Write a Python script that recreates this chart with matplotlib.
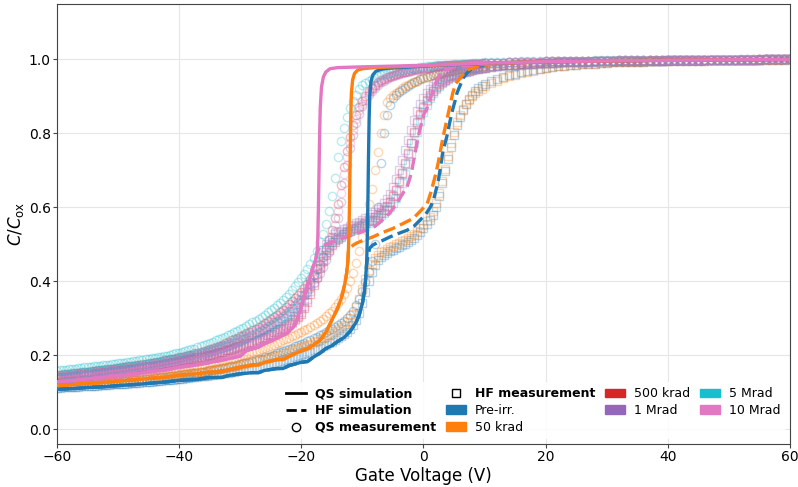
import numpy as np
import matplotlib
matplotlib.use('Agg')
import matplotlib.pyplot as plt
import matplotlib.patches as mpatches
from matplotlib.lines import Line2D

# dose labels and colours
doses = ['Pre-irr.', '50 krad', '500 krad', '1 Mrad', '5 Mrad', '10 Mrad']
colors = ['#1f77b4', '#ff7f0e', '#d62728', '#9467bd', '#17becf', '#e377c2']

# measurement voltage grid (V): 0.5 V steps up to 10 V, then 1 V steps
meas_v = np.concatenate([np.arange(-60, 10.5, 0.5), np.arange(11, 61)])

# QS measurements (C/Cox)
qs_pre = [.118, .118, .119, .119, .120, .120, .121, .121, .122, .122,
          .123, .123, .124, .124, .125, .125, .126, .126, .127, .127,
          .128, .129, .130, .130, .131, .132, .133, .133, .134, .135,
          .136, .137, .138, .139, .140, .141, .142, .143, .144, .145,
          .146, .147, .148, .149, .151, .152, .153, .154, .156, .157,
          .159, .160, .162, .163, .165, .166, .168, .170, .172, .174,
          .176, .178, .180, .182, .184, .186, .189, .191, .194, .196,
          .199, .202, .205, .208, .211, .214, .217, .220, .224, .227,
          .231, .234, .238, .242, .246, .250, .254, .258, .263, .267,
          .272, .277, .282, .288, .294, .301, .310, .321, .335, .353,
          .375, .398, .425, .455, .500, .600, .720, .800, .850, .878,
          .895, .904, .912, .918, .924, .929, .934, .938, .942, .946,
          .949, .952, .955, .958, .960, .962, .964, .966, .967, .969,
          .970, .972, .973, .974, .975, .976, .977, .978, .979, .980, .981,
          .982, .983, .984, .985, .986, .987, .988, .989, .990,
          .990, .991, .991, .992, .992, .993, .993, .994, .994, .995,
          .995, .995, .996, .996, .996, .996, .997, .997, .997, .997,
          .997, .998, .998, .998, .998, .998, .998, .999, .999, .999,
          .999, .999, .999, .999, .999, .999, 1.0, 1.0, 1.0, 1.0, 1.0]
qs_50k = [.128, .128, .129, .129, .130, .130, .131, .131, .132, .132,
          .133, .133, .134, .134, .135, .136, .137, .137, .138, .139,
          .140, .140, .141, .142, .143, .144, .145, .146, .147, .148,
          .149, .150, .151, .152, .153, .154, .156, .157, .158, .159,
          .161, .162, .164, .165, .167, .168, .170, .171, .173, .175,
          .177, .179, .181, .183, .185, .187, .189, .191, .193, .195,
          .198, .200, .203, .205, .208, .211, .214, .217, .220, .223,
          .226, .229, .233, .236, .240, .243, .247, .251, .255, .259,
          .263, .267, .272, .277, .282, .287, .293, .299, .306, .313,
          .321, .330, .340, .352, .365, .381, .400, .423, .450, .482,
          .520, .563, .610, .650, .700, .750, .800, .850, .885, .895,
          .903, .910, .916, .922, .927, .932, .936, .940, .943, .947,
          .950, .953, .955, .958, .960, .962, .964, .966, .968, .970,
          .971, .973, .974, .975, .976, .977, .978, .979, .980, .981, .982,
          .983, .984, .985, .986, .987, .988, .989, .990, .990,
          .991, .992, .992, .993, .993, .994, .994, .995, .995, .995,
          .996, .996, .996, .997, .997, .997, .997, .998, .998, .998,
          .998, .998, .998, .999, .999, .999, .999, .999, .999, .999,
          .999, .999, 1.0, 1.0, 1.0, 1.0, 1.0, 1.0, 1.0, 1.0, 1.0]
qs_500k = [.146, .147, .148, .149, .150, .151, .152, .153, .154, .155,
           .156, .157, .158, .159, .160, .161, .162, .163, .164, .165,
           .166, .167, .168, .170, .171, .172, .173, .175, .176, .177,
           .178, .180, .181, .183, .184, .186, .187, .189, .190, .192,
           .194, .196, .198, .200, .202, .205, .207, .210, .212, .215,
           .217, .220, .223, .226, .229, .232, .236, .240, .243, .247,
           .251, .255, .259, .263, .268, .272, .277, .282, .287, .292,
           .298, .304, .310, .316, .323, .330, .338, .346, .354, .363,
           .372, .382, .393, .405, .418, .432, .448, .467, .488, .512,
           .540, .572, .610, .660, .710, .752, .790, .822, .850, .871,
           .888, .902, .915, .924, .932, .938, .944, .948, .952, .955,
           .958, .961, .963, .965, .967, .969, .971, .973, .974, .976,
           .977, .978, .979, .980, .981, .982, .983, .984, .984, .985,
           .985, .986, .986, .987, .987, .988, .988, .989, .989, .990, .990,
           .990, .991, .991, .992, .992, .993, .993, .994, .994,
           .995, .995, .995, .996, .996, .996, .996, .997, .997, .997,
           .997, .997, .998, .998, .998, .998, .998, .998, .998, .999,
           .999, .999, .999, .999, .999, .999, .999, .999, .999, .999,
           .999, .999, .999, .999, .999, 1.0, 1.0, 1.0, 1.0, 1.0, 1.0]
qs_1M = [.138, .139, .140, .141, .142, .143, .144, .145, .146, .147,
         .148, .149, .150, .151, .152, .153, .154, .155, .156, .157,
         .158, .159, .160, .162, .163, .164, .165, .167, .168, .169,
         .170, .172, .173, .175, .176, .178, .179, .181, .182, .184,
         .186, .188, .190, .192, .194, .196, .198, .201, .203, .206,
         .208, .211, .213, .216, .219, .222, .225, .229, .232, .236,
         .239, .243, .247, .251, .255, .260, .264, .269, .273, .278,
         .283, .289, .294, .300, .306, .313, .320, .328, .335, .343,
         .352, .362, .372, .383, .395, .408, .422, .439, .458, .480,
         .505, .535, .570, .615, .665, .715, .760, .797, .828, .852,
         .873, .889, .903, .914, .924, .932, .938, .943, .948, .952,
         .955, .958, .960, .963, .965, .967, .969, .971, .972, .974,
         .975, .977, .978, .979, .980, .981, .982, .983, .983, .984,
         .984, .985, .985, .986, .986, .987, .987, .988, .988, .989, .990,
         .990, .991, .991, .992, .992, .993, .993, .994, .994,
         .995, .995, .995, .996, .996, .996, .996, .997, .997, .997,
         .997, .997, .998, .998, .998, .998, .998, .998, .998, .999,
         .999, .999, .999, .999, .999, .999, .999, .999, .999, .999,
         .999, .999, .999, .999, .999, 1.0, 1.0, 1.0, 1.0, 1.0, 1.0]
qs_5M = [.158, .159, .160, .161, .162, .163, .164, .165, .166, .167,
         .168, .169, .170, .171, .172, .173, .174, .175, .176, .177,
         .178, .179, .180, .182, .183, .184, .185, .187, .188, .189,
         .190, .192, .193, .195, .196, .198, .199, .201, .203, .205,
         .207, .209, .211, .213, .216, .218, .221, .224, .227, .230,
         .233, .236, .240, .243, .247, .250, .254, .258, .262, .266,
         .270, .275, .279, .284, .289, .294, .299, .304, .310, .316,
         .322, .328, .335, .342, .350, .358, .367, .377, .387, .398,
         .410, .421, .433, .447, .462, .482, .505, .528, .555, .590,
         .630, .680, .735, .780, .815, .845, .868, .888, .905, .919,
         .930, .937, .943, .947, .951, .954, .957, .960, .962, .964,
         .966, .968, .970, .972, .973, .975, .976, .977, .978, .979,
         .980, .981, .982, .983, .984, .984, .985, .985, .986, .986,
         .987, .987, .988, .988, .989, .989, .990, .990, .991, .991, .992,
         .992, .993, .993, .994, .994, .995, .995, .995, .996,
         .996, .996, .996, .997, .997, .997, .997, .997, .998, .998,
         .998, .998, .998, .998, .998, .998, .999, .999, .999, .999,
         .999, .999, .999, .999, .999, .999, .999, .999, .999, .999,
         .999, .999, 1.0, 1.0, 1.0, 1.0, 1.0, 1.0, 1.0, 1.0, 1.0]
qs_10M = [.142, .143, .144, .145, .146, .147, .148, .149, .150, .151,
          .152, .153, .154, .155, .156, .157, .158, .159, .160, .161,
          .162, .163, .164, .166, .167, .168, .169, .171, .172, .173,
          .174, .176, .177, .179, .180, .182, .183, .185, .186, .188,
          .190, .192, .194, .196, .198, .200, .203, .205, .208, .210,
          .213, .215, .218, .221, .224, .227, .231, .234, .238, .241,
          .245, .249, .253, .257, .262, .266, .271, .275, .280, .285,
          .291, .296, .302, .308, .315, .322, .329, .337, .345, .353,
          .362, .372, .382, .394, .406, .420, .435, .452, .472, .494,
          .520, .552, .590, .640, .690, .735, .775, .810, .840, .862,
          .880, .896, .909, .919, .928, .935, .941, .946, .950, .953,
          .956, .959, .961, .964, .966, .968, .970, .972, .973, .975,
          .976, .977, .978, .979, .980, .981, .982, .983, .983, .984,
          .984, .985, .985, .986, .986, .987, .987, .988, .988, .989, .990,
          .990, .991, .991, .992, .992, .993, .993, .994, .994,
          .995, .995, .995, .996, .996, .996, .996, .997, .997, .997,
          .997, .997, .998, .998, .998, .998, .998, .998, .998, .999,
          .999, .999, .999, .999, .999, .999, .999, .999, .999, .999,
          .999, .999, .999, .999, .999, 1.0, 1.0, 1.0, 1.0, 1.0, 1.0]

# HF measurements (C/Cox)
hf_pre = [.112, .112, .113, .113, .114, .114, .115, .115, .116, .116,
          .117, .117, .118, .118, .119, .119, .120, .120, .121, .121,
          .122, .122, .123, .123, .124, .125, .126, .126, .127, .127,
          .128, .129, .130, .130, .131, .132, .133, .133, .134, .135,
          .136, .137, .138, .139, .140, .141, .142, .143, .144, .145,
          .146, .147, .148, .149, .151, .152, .153, .154, .156, .157,
          .159, .160, .162, .163, .165, .166, .168, .170, .172, .174,
          .176, .178, .180, .182, .184, .186, .189, .191, .194, .197,
          .200, .203, .206, .209, .213, .216, .220, .224, .228, .232,
          .237, .242, .247, .252, .258, .264, .272, .282, .295, .315,
          .340, .370, .400, .425, .445, .457, .465, .471, .476, .481,
          .485, .489, .493, .497, .502, .507, .512, .518, .525, .534,
          .545, .554, .565, .580, .600, .630, .665, .698, .730, .763,
          .795, .822, .845, .864, .880, .893, .905, .914, .922, .928, .933,
          .941, .948, .953, .958, .962, .966, .969, .972, .975,
          .977, .979, .981, .983, .985, .986, .987, .988, .989, .990,
          .991, .992, .992, .993, .993, .994, .994, .995, .995, .995,
          .996, .996, .996, .997, .997, .997, .997, .998, .998, .998,
          .998, .998, .998, .999, .999, .999, .999, .999, .999, .999, 1.0]
hf_50k = [.120, .120, .121, .121, .122, .122, .123, .123, .124, .124,
          .125, .125, .126, .126, .127, .127, .128, .128, .129, .129,
          .130, .130, .131, .132, .133, .133, .134, .135, .136, .136,
          .137, .138, .139, .140, .141, .142, .143, .144, .145, .146,
          .147, .148, .149, .150, .151, .152, .154, .155, .156, .157,
          .159, .160, .162, .163, .165, .166, .168, .169, .171, .172,
          .174, .176, .178, .180, .182, .184, .186, .188, .190, .192,
          .195, .197, .200, .202, .205, .207, .210, .213, .216, .219,
          .222, .225, .228, .231, .235, .239, .243, .247, .251, .255,
          .260, .265, .270, .276, .283, .291, .300, .312, .330, .352,
          .380, .405, .430, .448, .462, .471, .478, .483, .488, .492,
          .496, .500, .504, .508, .513, .518, .523, .529, .536, .543,
          .552, .562, .575, .590, .612, .638, .670, .705, .740, .775,
          .805, .830, .850, .866, .880, .891, .900, .908, .915, .921, .927,
          .936, .943, .949, .954, .959, .963, .967, .970, .973,
          .976, .979, .981, .983, .985, .986, .987, .988, .989, .990,
          .991, .992, .992, .993, .993, .994, .994, .995, .995, .995,
          .996, .996, .996, .997, .997, .997, .997, .998, .998, .998,
          .998, .998, .998, .999, .999, .999, .999, .999, .999, .999, 1.0]
hf_500k = [.140, .141, .142, .143, .144, .145, .146, .147, .148, .149,
           .150, .151, .152, .153, .154, .155, .156, .157, .158, .159,
           .160, .161, .162, .163, .164, .165, .166, .167, .168, .170,
           .171, .172, .173, .175, .176, .177, .178, .180, .181, .183,
           .184, .186, .187, .189, .190, .192, .194, .196, .198, .200,
           .202, .204, .206, .208, .210, .213, .215, .218, .220, .223,
           .225, .228, .231, .234, .237, .240, .243, .247, .250, .254,
           .258, .262, .266, .270, .275, .280, .285, .291, .297, .304,
           .312, .327, .345, .366, .390, .412, .435, .455, .472, .486,
           .498, .507, .515, .521, .527, .532, .537, .541, .545, .549,
           .553, .557, .562, .567, .573, .579, .586, .594, .603, .615,
           .630, .648, .670, .694, .720, .747, .775, .803, .830, .853,
           .872, .889, .903, .915, .925, .933, .940, .945, .950, .954,
           .957, .960, .963, .966, .968, .970, .972, .974, .975, .977, .978,
           .980, .982, .984, .985, .986, .987, .988, .989, .990,
           .991, .991, .992, .992, .993, .993, .994, .994, .995, .995,
           .995, .996, .996, .996, .996, .997, .997, .997, .997, .997,
           .998, .998, .998, .998, .998, .998, .998, .999, .999, .999,
           .999, .999, .999, .999, .999, .999, 1.0, 1.0, 1.0, 1.0, 1.0]
hf_1M = [.135, .136, .137, .138, .139, .140, .141, .142, .143, .144,
         .145, .146, .147, .148, .149, .150, .151, .152, .153, .154,
         .155, .156, .157, .158, .160, .161, .162, .163, .164, .166,
         .167, .168, .169, .171, .172, .173, .175, .176, .178, .179,
         .181, .182, .184, .185, .187, .189, .191, .193, .195, .197,
         .199, .201, .203, .205, .208, .210, .213, .215, .218, .220,
         .223, .226, .229, .232, .235, .238, .242, .246, .250, .254,
         .258, .262, .267, .272, .277, .282, .288, .296, .305, .317,
         .330, .348, .370, .394, .420, .443, .465, .484, .500, .511,
         .520, .527, .532, .537, .541, .545, .549, .553, .557, .561,
         .565, .570, .575, .581, .588, .595, .602, .611, .622, .636,
         .655, .676, .700, .727, .755, .783, .810, .836, .860, .879,
         .895, .909, .920, .929, .937, .943, .948, .952, .956, .959,
         .962, .965, .967, .969, .971, .973, .974, .976, .977, .978, .979,
         .981, .983, .984, .985, .986, .987, .988, .989, .990,
         .991, .991, .992, .992, .993, .993, .994, .994, .995, .995,
         .995, .996, .996, .996, .996, .997, .997, .997, .997, .997,
         .998, .998, .998, .998, .998, .998, .998, .999, .999, .999,
         .999, .999, .999, .999, .999, .999, 1.0, 1.0, 1.0, 1.0, 1.0]
hf_5M = [.145, .146, .147, .148, .149, .150, .151, .152, .153, .154,
         .155, .156, .157, .158, .159, .160, .161, .162, .163, .164,
         .165, .166, .167, .168, .170, .171, .172, .173, .175, .176,
         .177, .178, .180, .181, .183, .184, .186, .187, .189, .190,
         .192, .194, .196, .198, .200, .202, .204, .206, .208, .210,
         .213, .215, .218, .220, .223, .225, .228, .231, .234, .237,
         .240, .243, .247, .250, .254, .258, .262, .266, .270, .274,
         .279, .284, .289, .294, .300, .306, .312, .320, .328, .338,
         .350, .364, .380, .398, .418, .437, .455, .471, .485, .496,
         .505, .512, .518, .523, .528, .532, .536, .540, .543, .547,
         .550, .554, .558, .562, .567, .572, .578, .584, .592, .601,
         .612, .626, .645, .666, .690, .716, .745, .775, .805, .833,
         .858, .878, .895, .909, .920, .929, .937, .943, .948, .952,
         .956, .959, .962, .965, .967, .969, .971, .973, .974, .976, .977,
         .979, .981, .983, .984, .985, .986, .987, .988, .989,
         .990, .991, .991, .992, .992, .993, .993, .994, .994, .995,
         .995, .995, .996, .996, .996, .996, .997, .997, .997, .997,
         .998, .998, .998, .998, .998, .998, .998, .999, .999, .999,
         .999, .999, .999, .999, .999, .999, 1.0, 1.0, 1.0, 1.0, 1.0]
hf_10M = [.130, .131, .132, .133, .134, .135, .136, .137, .138, .139,
          .140, .141, .142, .143, .144, .145, .146, .147, .148, .149,
          .150, .151, .152, .153, .155, .156, .157, .158, .159, .160,
          .162, .163, .164, .166, .167, .168, .170, .171, .173, .174,
          .176, .177, .179, .180, .182, .184, .186, .188, .190, .192,
          .194, .196, .198, .200, .203, .205, .208, .210, .213, .215,
          .218, .221, .224, .227, .230, .233, .237, .240, .244, .248,
          .252, .256, .261, .265, .270, .275, .281, .288, .295, .306,
          .318, .334, .352, .374, .398, .420, .442, .461, .478, .491,
          .502, .511, .518, .524, .530, .535, .539, .543, .547, .551,
          .555, .559, .564, .569, .575, .581, .588, .596, .605, .616,
          .630, .647, .668, .692, .718, .745, .773, .801, .828, .851,
          .870, .887, .902, .914, .924, .932, .939, .944, .949, .953,
          .956, .959, .962, .965, .967, .969, .971, .973, .974, .976, .977,
          .979, .981, .983, .984, .985, .986, .987, .988, .989,
          .990, .991, .991, .992, .992, .993, .993, .994, .994, .995,
          .995, .995, .996, .996, .996, .996, .997, .997, .997, .997,
          .998, .998, .998, .998, .998, .998, .998, .999, .999, .999,
          .999, .999, .999, .999, .999, .999, 1.0, 1.0, 1.0, 1.0, 1.0]

# simulations: Pre-irr.
pre_qs_v = [-60, -57, -55, -52, -50, -47, -45, -42, -40, -37,
            -35, -33, -32, -30, -28, -27, -26, -24, -23, -22,
            -20, -19, -18, -17, -16, -15, -14, -13, -12, -11,
            -10.5, -10, -9.7, -9.5, -9.3, -9.2, -9.1, -9.0, -8.9, -8.8,
            -8.6, -8.3, -7.8, -7, -6, -4, -2, 0, 5, 10,
            15, 20, 30, 40, 50, 60]
pre_qs_c = [.108, .110, .113, .115, .118, .121, .124, .128, .132, .135,
            .140, .140, .145, .150, .153, .153, .159, .164, .164, .172,
            .181, .183, .195, .205, .218, .226, .238, .248, .265, .29,
            .31, .34, .37, .40, .45, .52, .62, .74, .84, .90,
            .94, .958, .968, .973, .976, .978, .980, .982, .986, .989,
            .992, .994, .996, .998, .999, 1.0]
pre_branch = -9.3
pre_hf_tail_v = [-9.1, -8.8, -8.3, -7.5, -6.5, -5.5, -4, -2.7, -1.5, -0.6,
                 0.3, 1.1, 1.6, 1.9, 2.4, 2.7, 3.2, 3.8, 4.3, 4.7,
                 5.2, 5.5, 6.0, 6.5, 7.2, 7.9, 9, 12, 16, 20, 30, 40, 50, 60]
pre_hf_tail_c = [.47, .49, .498, .505, .512, .52, .53, .538, .55, .565,
                 .58, .60, .618, .637, .67, .70, .754, .79, .83, .86,
                 .89, .91, .93, .95, .965, .975, .982, .988, .991, .993, .996, .998, .999, 1.0]

# simulations: 50 krad
k50_qs_v = [-60, -57, -55, -52, -50, -47, -45, -42, -40, -37,
            -35, -33, -32, -30, -28, -27, -26, -24, -23, -22,
            -21, -20, -19, -18, -17, -16.5, -16, -15.5, -15, -14.5,
            -14, -13.5, -13.2, -12.9, -12.6, -12.4, -12.3, -12.2, -12.1, -12.0,
            -11.9, -11.8, -11.6, -11.3, -10.8, -10, -8, -5, 0, 5,
            10, 15, 20, 30, 40, 50, 60]
k50_qs_c = [.118, .121, .124, .127, .130, .134, .137, .141, .146, .150,
            .155, .155, .161, .168, .174, .174, .181, .188, .188, .197,
            .205, .212, .218, .228, .240, .250, .262, .278, .295, .312,
            .330, .352, .370, .392, .42, .45, .48, .53, .62, .74,
            .85, .91, .945, .962, .971, .975, .978, .980, .983, .987,
            .990, .992, .994, .996, .998, .999, 1.0]
k50_branch = -12.3
k50_hf_tail_v = [-12.0, -11.5, -11, -10, -8.3, -7, -5, -3.5, -1.7, -0.5,
                 0.6, 1.2, 1.6, 2.0, 2.4, 2.8, 3.2, 3.6, 4.0, 4.4,
                 4.8, 5.3, 6.0, 6.8, 7.6, 9, 12, 16, 20, 30, 40, 50, 60]
k50_hf_tail_c = [.49, .498, .503, .51, .52, .53, .543, .555, .57, .59,
                 .61, .64, .665, .69, .72, .755, .79, .82, .85, .88,
                 .91, .935, .95, .965, .975, .982, .988, .991, .993, .996, .998, .999, 1.0]

# simulations: 10 Mrad
m10_qs_v = [-60, -57, -55, -52, -50, -47, -45, -42, -40, -37,
            -35, -32, -30, -28.9, -27, -25.6, -24, -22.3, -21.3, -20.7,
            -20.2, -19.7, -19.3, -18.9, -18.5, -18.1, -17.8, -17.6, -17.5, -17.4,
            -17.3, -17.2, -17.1, -17.0, -16.9, -16.7, -16.4, -16.0, -15.3, -14,
            -10, -5, 0, 5, 10, 15, 20, 30, 40, 50, 60]
m10_qs_c = [.128, .132, .136, .141, .145, .150, .155, .161, .168, .174,
            .180, .190, .198, .213, .222, .235, .246, .26, .276, .295,
            .32, .35, .37, .395, .415, .438, .452, .462, .472, .48,
            .52, .60, .70, .80, .87, .925, .952, .966, .975, .978,
            .980, .982, .984, .987, .990, .992, .994, .996, .998, .999, 1.0]
m10_branch = -17.4
m10_hf_tail_v = [-17.0, -16.0, -15, -14.2, -13, -11.5, -10.4, -9, -8, -7.1,
                 -6.3, -5.5, -4.4, -3.5, -2.7, -2.3, -1.9, -1.4, -1.0, -0.6,
                 0, 0.6, 1.1, 1.6, 2.1, 2.7, 3.5, 5, 8, 15, 30, 45, 60]
m10_hf_tail_c = [.492, .50, .506, .51, .518, .526, .532, .54, .548, .56,
                 .572, .585, .61, .635, .655, .675, .70, .745, .78, .81,
                 .85, .87, .895, .915, .94, .96, .972, .98, .985, .99, .996, .998, 1.0]

qs_meas = [qs_pre, qs_50k, qs_500k, qs_1M, qs_5M, qs_10M]
hf_meas = [hf_pre, hf_50k, hf_500k, hf_1M, hf_5M, hf_10M]


def hf_curve(qv, qc, branch, tv, tc):
    # HF simulation follows the QS one until the QS curve shoots up
    head = [(v, c) for v, c in zip(qv, qc) if v <= branch]
    return [h[0] for h in head] + tv, [h[1] for h in head] + tc


sims = [
    (pre_qs_v, pre_qs_c, *hf_curve(pre_qs_v, pre_qs_c, pre_branch, pre_hf_tail_v, pre_hf_tail_c), colors[0]),
    (k50_qs_v, k50_qs_c, *hf_curve(k50_qs_v, k50_qs_c, k50_branch, k50_hf_tail_v, k50_hf_tail_c), colors[1]),
    (m10_qs_v, m10_qs_c, *hf_curve(m10_qs_v, m10_qs_c, m10_branch, m10_hf_tail_v, m10_hf_tail_c), colors[5]),
]

fig = plt.figure(figsize=(7.98, 4.87), dpi=100)
ax = fig.add_axes([0.0714, 0.0883, 0.9186, 0.9035])

for qs, hf, c in zip(qs_meas, hf_meas, colors):
    ax.plot(meas_v, qs, 'o', mfc='none', mec=c, ms=6, mew=1.0, alpha=0.3, zorder=2)
    ax.plot(meas_v, hf, 's', mfc='none', mec=c, ms=6, mew=1.0, alpha=0.3, zorder=2)

for qv, qc, hv, hc, c in sims:
    ax.plot(hv, hc, '--', color=c, lw=2.4, zorder=3)
    ax.plot(qv, qc, '-', color=c, lw=2.4, zorder=4)

ax.set_xlim(-60, 60)
ax.set_ylim(-0.04, 1.15)
ax.set_xticks([-60, -40, -20, 0, 20, 40, 60])
ax.set_yticks([0.0, 0.2, 0.4, 0.6, 0.8, 1.0])
ax.tick_params(labelsize=10, color='#444444', length=3, pad=1.5)
ax.grid(True, color='#e6e6e6', lw=0.8)
ax.set_axisbelow(True)
for s in ax.spines.values():
    s.set_color('#444444')

ax.set_xlabel('Gate Voltage (V)', fontsize=12, labelpad=2)
ax.set_ylabel(r'$C/C_{\rm ox}$', fontsize=12, labelpad=2)

handles = [
    Line2D([], [], color='black', lw=2, ls='-'),
    Line2D([], [], color='black', lw=2, ls='--'),
    Line2D([], [], marker='o', ls='none', mfc='none', mec='black', ms=6),
    Line2D([], [], marker='s', ls='none', mfc='none', mec='black', ms=6),
] + [mpatches.Patch(color=c) for c in colors]
labels = ['QS simulation', 'HF simulation', 'QS measurement', 'HF measurement'] + doses

leg = ax.legend(handles, labels, loc='lower right', ncol=4, fontsize=9,
                handlelength=1.6, columnspacing=0.8, handletextpad=0.7,
                labelspacing=0.3, frameon=True, framealpha=0.85,
                edgecolor='none', facecolor='white', borderaxespad=0.4)
for t in leg.get_texts()[:4]:
    t.set_fontweight('bold')

fig.savefig('out.png', dpi=100)
